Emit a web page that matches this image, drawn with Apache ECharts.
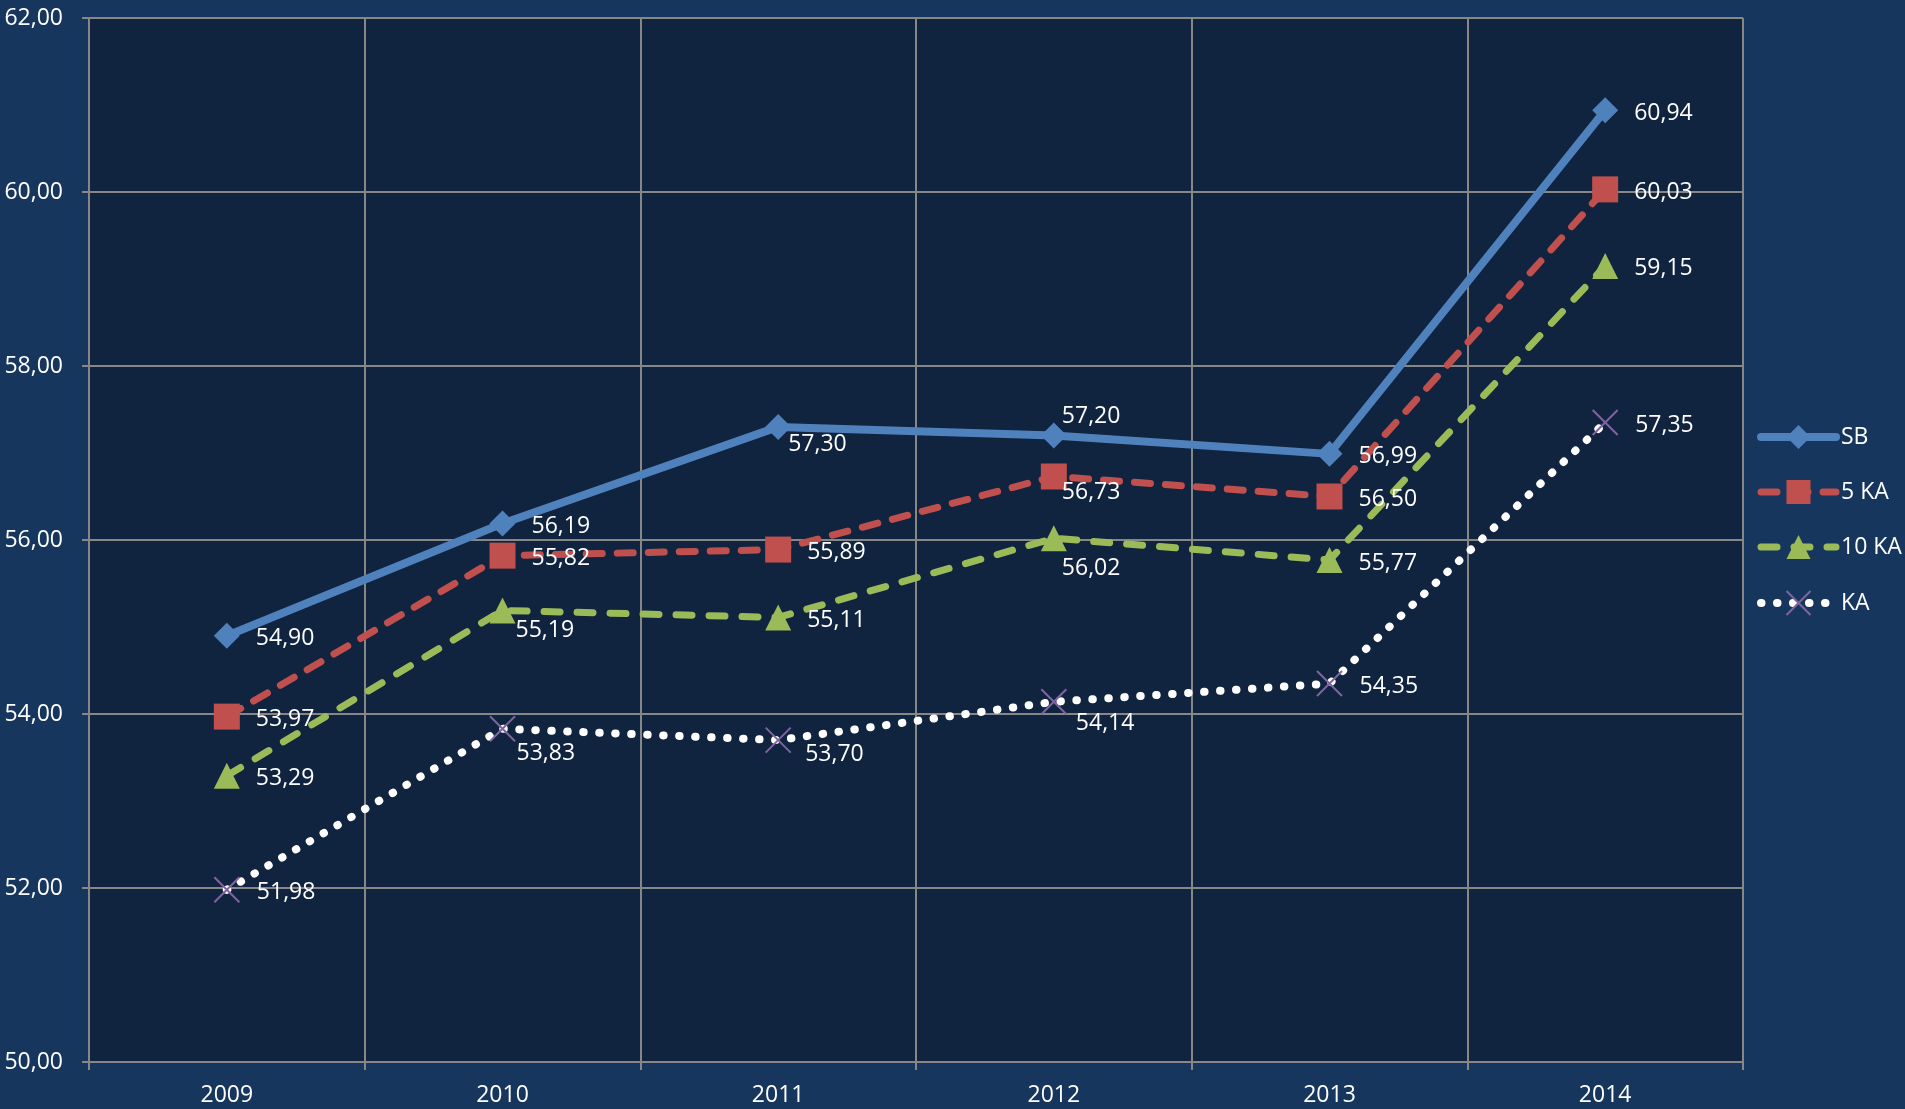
<!DOCTYPE html>
<html>
<head>
<meta charset="utf-8">
<script src="https://cdn.jsdelivr.net/npm/echarts@6/dist/echarts.min.js"></script>
<style>
  html, body { margin: 0; padding: 0; background: #17365d; }
  #main { width: 1905px; height: 1109px; }
</style>
</head>
<body>
<div id="main"></div>
<script>
const years = ['2009', '2010', '2011', '2012', '2013', '2014']
const sb = [54.90, 56.19, 57.30, 57.20, 56.99, 60.94]
const ka5 = [53.97, 55.82, 55.89, 56.73, 56.50, 60.03]
const ka10 = [53.29, 55.19, 55.11, 56.02, 55.77, 59.15]
const ka = [51.98, 53.83, 53.70, 54.14, 54.35, 57.35]

// where each value label sits relative to its point (null = default spot on the right)
const shiftSb = [null, null, [10, 18], [8, -19], null, null]
const shift5 = [null, null, null, [8, 16], null, null]
const shift10 = [null, [13, 20], null, [8, 30], null, null]
const shiftKa = [null, [13, 25], [26, 14], [21, 22], null, null]

const fmt = v => v.toFixed(2).replace('.', ',')
const font = '"Open Sans", sans-serif'
const grey = '#878787'

const withLabels = (vals, shifts, size) =>
  vals.map((v, i) => {
    const s = shifts[i] || [29, 3]
    return { value: v, label: { offset: [s[0] - size / 2, s[1]] } }
  })

const labelBase = {
  show: true,
  position: 'right',
  distance: 0,
  color: '#fff',
  fontFamily: font,
  fontSize: 23,
  formatter: p => fmt(p.value)
}

const chart = echarts.init(document.getElementById('main'))
const option = {
  animation: false,
  backgroundColor: '#17365d',
  textStyle: { fontFamily: font },
  grid: {
    left: 89, right: 162, top: 18, bottom: 47,
    show: true, backgroundColor: '#10233f', borderWidth: 0
  },
  legend: {
    orient: 'vertical',
    left: 1752,
    top: 420,
    itemWidth: 75,
    itemHeight: 30,
    itemGap: 31,
    lineStyle: { width: 'inherit' },
    textStyle: { color: '#fff', fontSize: 23, lineHeight: 24, fontFamily: font },
    data: ['SB', '5 KA', '10 KA', 'KA']
  },
  xAxis: {
    type: 'category',
    data: years,
    boundaryGap: true,
    axisLine: { lineStyle: { color: grey, width: 2 } },
    axisTick: { show: true, length: 8, lineStyle: { color: grey, width: 2 } },
    axisLabel: { color: '#fff', fontSize: 23, margin: 22, fontFamily: font },
    splitLine: { show: true, lineStyle: { color: grey, width: 2 } }
  },
  yAxis: {
    type: 'value',
    min: 50,
    max: 62,
    interval: 2,
    axisLine: { show: true, lineStyle: { color: grey, width: 2 } },
    axisTick: { show: true, length: 7, lineStyle: { color: grey, width: 2 } },
    axisLabel: { color: '#fff', fontSize: 23, margin: 26, fontFamily: font, formatter: fmt },
    splitLine: { show: true, lineStyle: { color: grey, width: 2 } }
  },
  series: [
    {
      name: 'SB',
      type: 'line',
      data: withLabels(sb, shiftSb, 26),
      symbol: 'diamond',
      symbolSize: 26,
      itemStyle: { color: '#4f81bd' },
      lineStyle: { color: '#4f81bd', width: 8, cap: 'round', join: 'round' },
      label: labelBase
    },
    {
      name: '5 KA',
      type: 'line',
      data: withLabels(ka5, shift5, 26),
      symbol: 'rect',
      symbolSize: 26,
      itemStyle: { color: '#c0504d' },
      lineStyle: { color: '#c0504d', width: 7, type: [16, 15], cap: 'round', join: 'round' },
      label: labelBase
    },
    {
      name: '10 KA',
      type: 'line',
      data: withLabels(ka10, shift10, 26),
      symbol: 'triangle',
      symbolSize: 26,
      itemStyle: { color: '#9bbb59' },
      lineStyle: { color: '#9bbb59', width: 7, type: [16, 17], cap: 'round', join: 'round' },
      label: labelBase
    },
    {
      name: 'KA',
      type: 'line',
      data: withLabels(ka, shiftKa, 25),
      symbol: 'path://M0,0L10,10M10,0L0,10',
      symbolSize: 25,
      itemStyle: { color: 'transparent', borderColor: '#8064a2', borderWidth: 2 },
      lineStyle: { color: '#ffffff', width: 8, type: [0.5, 15.5], cap: 'round' },
      label: labelBase
    }
  ]
}
option && chart.setOption(option)
</script>
</body>
</html>
